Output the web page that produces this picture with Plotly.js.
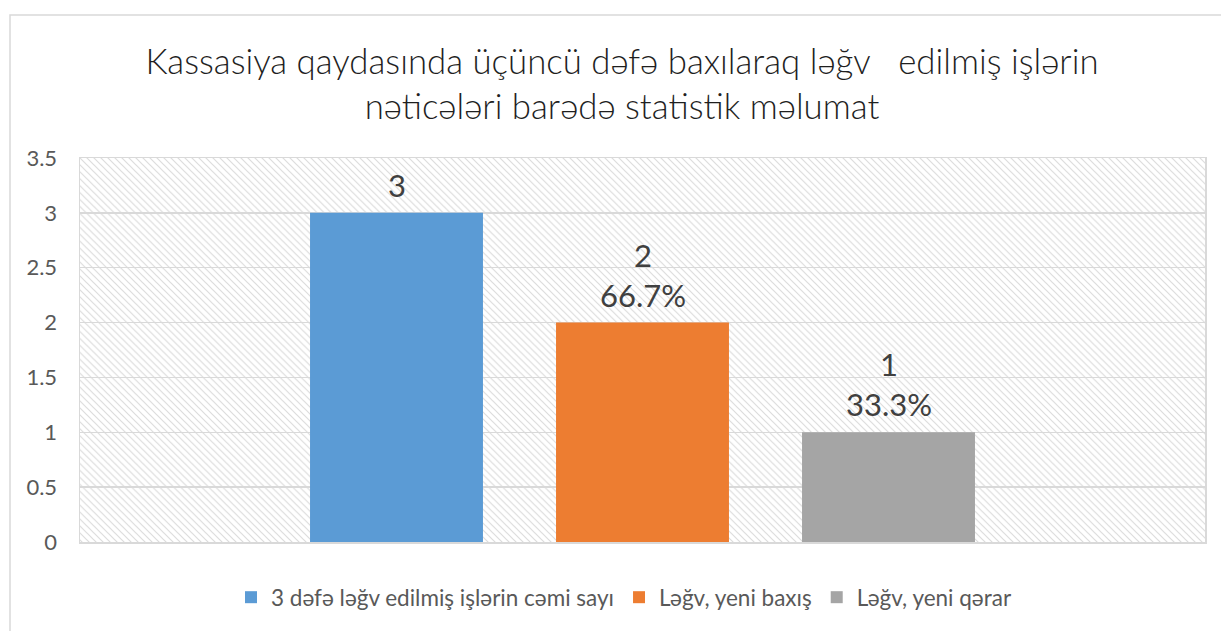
<!DOCTYPE html>
<html>
<head>
<meta charset="utf-8">
<script src="https://cdn.plot.ly/plotly-3.0.1.min.js"></script>
<style>
  html, body { margin: 0; padding: 0; background: #ffffff; }
  #chart { width: 1221px; height: 631px; }
</style>
</head>
<body>
<div id="chart"></div>
<script>
// ---- Data ----
const chartTitle = 'Kassasiya qaydasında üçüncü dəfə baxılaraq ləğv\u00A0\u00A0 edilmiş işlərin<br>nəticələri barədə statistik məlumat';
const seriesNames = ['3 dəfə ləğv edilmiş işlərin cəmi sayı', 'Ləğv, yeni baxış', 'Ləğv, yeni qərar'];
const counts = [3, 2, 1];
const percentLabels = ['', '66.7%', '33.3%'];
const seriesColors = ['#5B9BD5', '#ED7D31', '#A5A5A5'];
const yTickValues = [0, 0.5, 1, 1.5, 2, 2.5, 3, 3.5];
const yTickLabels = ['0', '0.5', '1', '1.5', '2', '2.5', '3', '3.5'];

// ---- Layout constants ----
const W = 1221, H = 631;
const M = { l: 80, r: 16, t: 158, b: 86 };
const plotW = W - M.l - M.r, plotH = H - M.t - M.b;
const FONT = 'Lato, "Open Sans", "Noto Sans", sans-serif';
const titleCenterPx = 622;
const legendCenterPx = 624;
const legendMidPx = 601;

// hatch background as an SVG image
const hatchSvg =
  '<svg xmlns="http://www.w3.org/2000/svg" width="' + plotW + '" height="' + plotH + '">' +
  '<defs><pattern id="p" width="7" height="7" patternUnits="userSpaceOnUse">' +
  '<path d="M-2,5 L2,9 M0,0 L7,7 M5,-2 L9,2" stroke="#dcdcdc" stroke-width="1.2"/>' +
  '</pattern></defs><rect width="100%" height="100%" fill="#ffffff"/>' +
  '<rect width="100%" height="100%" fill="url(#p)"/></svg>';
const hatchSrc = 'data:image/svg+xml;charset=utf-8,' + encodeURIComponent(hatchSvg);

const traces = seriesNames.map((name, i) => ({
  type: 'bar',
  name: name,
  x: [name],
  y: [counts[i]],
  width: 0.703,
  marker: { color: seriesColors[i], line: { width: 0 } },
  hoverinfo: 'name+y'
}));

const annotations = seriesNames.map((name, i) => ({
  xref: 'x', yref: 'y',
  x: name, y: counts[i],
  text: percentLabels[i] ? counts[i] + '<br>' + percentLabels[i] : String(counts[i]),
  showarrow: false,
  yanchor: 'bottom',
  yshift: 7,
  font: { family: FONT, size: 31, color: '#404040' }
}));

const layout = {
  width: W, height: H,
  margin: M,
  paper_bgcolor: '#ffffff',
  plot_bgcolor: '#ffffff',
  font: { family: FONT, color: '#595959' },
  title: {
    text: chartTitle,
    x: titleCenterPx / W, xref: 'container', xanchor: 'center',
    y: 1 - 74 / H, yref: 'container', yanchor: 'top',
    font: { family: FONT, size: 34.8, color: '#1f1f1f', weight: 300 }
  },
  barmode: 'overlay',
  xaxis: {
    type: 'category',
    categoryorder: 'array',
    categoryarray: seriesNames,
    range: [-1.2866, 3.2866],
    showticklabels: false,
    ticks: '',
    showgrid: false,
    zeroline: false,
    showline: true, mirror: true,
    linecolor: '#d9d9d9', linewidth: 1.5,
    fixedrange: true
  },
  yaxis: {
    range: [0, 3.5],
    tickvals: yTickValues,
    ticktext: yTickLabels,
    tickfont: { family: FONT, size: 22, color: '#595959' },
    ticks: '',
    ticklabelstandoff: 17,
    showgrid: true, gridcolor: '#d9d9d9', gridwidth: 1.5,
    zeroline: false,
    showline: true, mirror: true,
    linecolor: '#d9d9d9', linewidth: 1.5,
    fixedrange: true
  },
  showlegend: true,
  legend: {
    orientation: 'h',
    x: (legendCenterPx - M.l) / plotW, xanchor: 'center',
    y: (H - M.b - legendMidPx) / plotH, yanchor: 'middle',
    font: { family: FONT, size: 22.5, color: '#595959' },
    itemwidth: 30,
    traceorder: 'normal'
  },
  annotations: annotations,
  images: [{
    source: hatchSrc,
    xref: 'paper', yref: 'paper',
    x: 0, y: 1, sizex: 1, sizey: 1,
    xanchor: 'left', yanchor: 'top',
    sizing: 'stretch',
    layer: 'below'
  }],
  shapes: [{
    type: 'rect', xref: 'paper', yref: 'paper',
    x0: (10 - M.l) / plotW, x1: 1.5,
    y0: (H - M.b - 14) / plotH, y1: -0.5,
    line: { color: '#d9d9d9', width: 1.5 },
    fillcolor: 'rgba(0,0,0,0)',
    layer: 'below'
  }]
};

Plotly.newPlot('chart', traces, layout, { displayModeBar: false, staticPlot: true });
</script>
</body>
</html>
